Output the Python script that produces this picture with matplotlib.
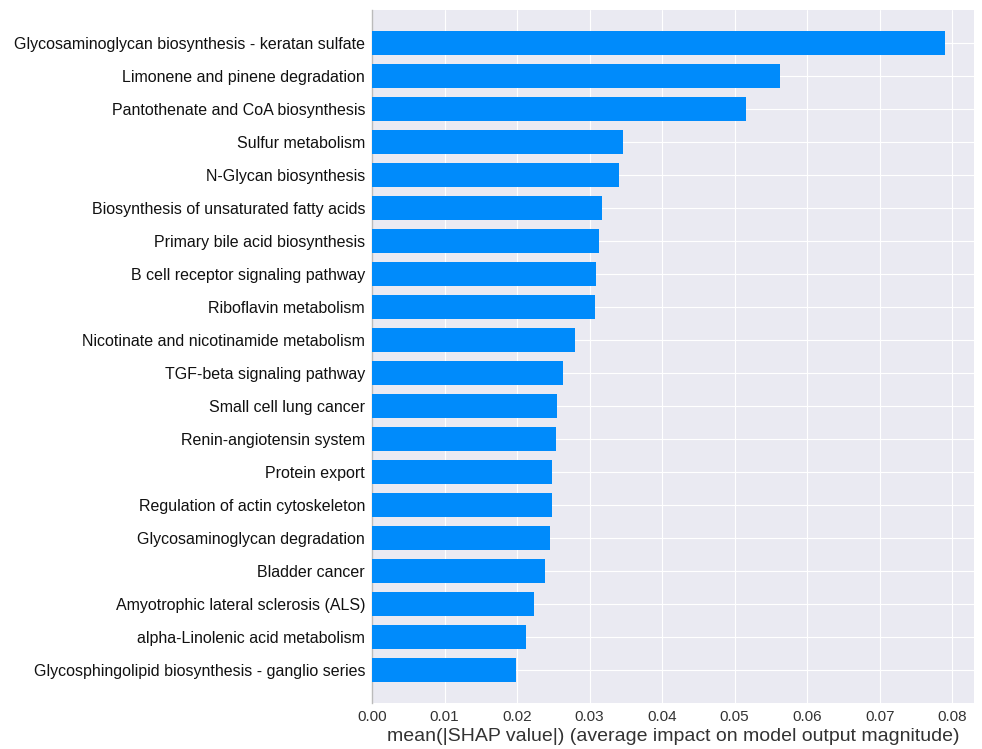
import matplotlib
matplotlib.use("Agg")
import matplotlib.pyplot as plt
import numpy as np
import seaborn as sns

pathways = [
    "Glycosaminoglycan biosynthesis - keratan sulfate",
    "Limonene and pinene degradation",
    "Pantothenate and CoA biosynthesis",
    "Sulfur metabolism",
    "N-Glycan biosynthesis",
    "Biosynthesis of unsaturated fatty acids",
    "Primary bile acid biosynthesis",
    "B cell receptor signaling pathway",
    "Riboflavin metabolism",
    "Nicotinate and nicotinamide metabolism",
    "TGF-beta signaling pathway",
    "Small cell lung cancer",
    "Renin-angiotensin system",
    "Protein export",
    "Regulation of actin cytoskeleton",
    "Glycosaminoglycan degradation",
    "Bladder cancer",
    "Amyotrophic lateral sclerosis (ALS)",
    "alpha-Linolenic acid metabolism",
    "Glycosphingolipid biosynthesis - ganglio series",
]
mean_abs_shap = [
    0.0790, 0.0563, 0.0516, 0.0346, 0.0340, 0.0317, 0.0313, 0.0309, 0.0307, 0.0280,
    0.0264, 0.0255, 0.0253, 0.0248, 0.0248, 0.0246, 0.0238, 0.0223, 0.0213, 0.0198,
]
xticks = [0.00, 0.01, 0.02, 0.03, 0.04, 0.05, 0.06, 0.07, 0.08]

sns.set_style("darkgrid")
plt.rcParams["font.family"] = ["Liberation Sans", "DejaVu Sans"]

fig = plt.figure(figsize=(9.82, 7.49), dpi=100)
ax = fig.add_axes([0.3788, 0.0614, 0.6131, 0.9252])

n = len(pathways)
y_pos = np.arange(n)[::-1]
ax.barh(y_pos, mean_abs_shap, height=0.7, color="#008bfb", align="center",
        edgecolor="none", linewidth=0, zorder=3)

ax.set_yticks(y_pos)
ax.set_yticklabels(pathways, fontsize=11.5, color="#111111")
ax.set_ylim(-1, n)
ax.set_xlim(0, 0.083)
ax.set_xticks(xticks)
ax.set_xticklabels([f"{t:.2f}" for t in xticks], fontsize=11, color="#333333")
ax.set_xlabel("mean(|SHAP value|) (average impact on model output magnitude)",
              fontsize=14, color="#333333", labelpad=3)
ax.tick_params(axis="both", length=0, pad=5)

for side in ["top", "right", "bottom"]:
    ax.spines[side].set_visible(False)
ax.spines["left"].set_visible(True)
ax.spines["left"].set_color("#bbbbbb")
ax.spines["left"].set_linewidth(1)

fig.savefig("out.png", dpi=100)
